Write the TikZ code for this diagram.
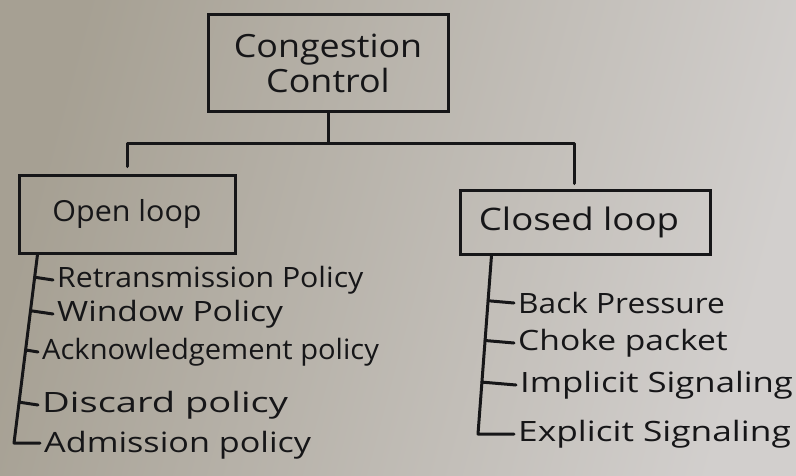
\documentclass[tikz,border=0pt]{standalone}
\usepackage{fontspec}
\setmainfont{Open Sans}
\usetikzlibrary{calc}
\definecolor{paperL}{RGB}{166,160,147}
\definecolor{paperM}{RGB}{190,186,178}
\definecolor{paperR}{RGB}{210,207,205}
\definecolor{ink}{RGB}{22,22,24}
% widened lettering: size, then horizontal stretch
\newcommand\wideset[2]{\fontsize{#1}{#1}\selectfont\addfontfeatures{FakeStretch=#2}}
\begin{document}
\begin{tikzpicture}[x=1pt,y=-1pt,
  box/.style={draw=ink, line width=3pt, inner sep=0pt, align=center, text=ink},
  link/.style={draw=ink, line width=3pt, line cap=round, line join=round},
  item/.style={anchor=west, inner sep=0pt, text=ink, font=\wideset{28}{#1}},
  item/.default=1.15]
% paper, darker towards the lower left
\shade[left color=paperL, middle color=paperM, right color=paperR, shading angle=75] (0,0) rectangle (796,475);
\useasboundingbox (0,0) rectangle (796,475);

% boxes
\node[box, minimum width=240pt, minimum height=97pt, font={\wideset{32}{1.12}\linespread{1.1}}] (root) at (328,63) {Congestion\\[3pt]Control};
\node[box, minimum width=216pt, minimum height=78pt, font=\wideset{29}{1.05}] (open) at (127,214) {Open loop};
\node[box, minimum width=250pt, minimum height=64pt, font=\wideset{31}{1.18}] (closed) at (585,222) {\hspace*{-12pt}Closed loop};

% bus from the root to both branches
\coordinate (busy) at (0,143);
\coordinate (ol-top) at ([yshift=7pt]open.north);
\coordinate (cl-top) at ([xshift=-11pt,yshift=5pt]closed.north);
\draw[link] (root.south) -- (root.south |- busy);
\draw[link] (ol-top) |- (cl-top |- busy) -- (cl-top);

% open loop policies
\node[item=1.08] (a1) at (57,280) {Retransmission Policy};
\node[item=1.2]  (a2) at (57,314) {Window Policy};
\node[item=1.04] (a3) at (42,352) {Acknowledgement policy};
\node[item=1.36] (a4) at (42,405) {Discard policy};
\node[item=1.22] (a5) at (44,445) {Admission policy};
\coordinate (lt) at ([xshift=20pt]open.south west);
\coordinate (lb) at (14,443);
\draw[link] (lt) -- (lb) -- ([xshift=-4pt]a5.west |- lb);
\foreach \n in {a1,a2,a3,a4}
  \draw[link] ($(lt)!(\n.west)!(lb)$) -- ([xshift=-4pt]\n.west);

% closed loop mechanisms
\node[item=1.13] (b1) at (518,303) {Back Pressure};
\node[item=1.2]  (b2) at (518,343) {Choke packet};
\node[item=1.24] (b3) at (520,385) {Implicit Signaling};
\node[item=1.26] (b4) at (518,434) {Explicit Signaling};
\coordinate (rt) at ([xshift=33pt]closed.south west);
\coordinate (rb) at (478,434);
\draw[link] (rt) -- (rb) -- ([xshift=-4pt]b4.west |- rb);
\foreach \n in {b1,b2,b3}
  \draw[link] ($(rt)!(\n.west)!(rb)$) -- ([xshift=-4pt]\n.west);
\end{tikzpicture}
\end{document}
